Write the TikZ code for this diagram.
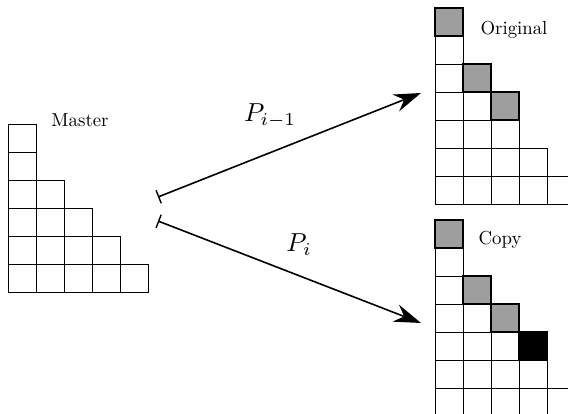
\documentclass[tikz,border=0pt]{standalone}
\usetikzlibrary{arrows.meta}
\newcommand\youngdiag[3]{%
  \foreach \len [count=\r] in {#3} {
    \foreach \c in {1,...,\len} {
      \draw[cellbox] ({#1+(\c-1)*28},{#2+(\r-1)*28}) rectangle ++(28,28);
    }
  }}
\begin{document}
\begin{tikzpicture}[x=1pt,y=-1pt,
  cellbox/.style={draw=black,line width=0.9pt},
  graycell/.style={draw=black,line width=1.1pt,fill=black!38},
  blackcell/.style={draw=black,line width=1.1pt,fill=black},
  lbl/.style={scale=1.88,inner sep=0pt,anchor=base},
  mlbl/.style={scale=2.6,inner sep=0pt,anchor=base},
  arr/.style={line width=1.6pt,{Bar[width=14pt,line width=1.4pt]}-{Stealth[length=27pt,width=18pt,inset=9pt]}}]
\useasboundingbox (0,0) rectangle (568,414);
\clip (0,0) rectangle (568,414);
% Master
\youngdiag{8}{124}{1,1,2,3,4,5}
\node[lbl] (master) at (80,127) {Master};
% Original
\youngdiag{435}{8}{1,1,2,3,3,4,5}
\draw[graycell] (435,8) rectangle ++(28,28);
\draw[graycell] (463,64) rectangle ++(28,28);
\draw[graycell] (491,92) rectangle ++(28,28);
\node[lbl] (orig) at (514,35) {Original};
% Copy
\youngdiag{435}{220}{1,1,2,3,4,4,5}
\draw[graycell] (435,220) rectangle ++(28,28);
\draw[graycell] (463,276) rectangle ++(28,28);
\draw[graycell] (491,304) rectangle ++(28,28);
\draw[blackcell] (519,332) rectangle ++(28,28);
\node[lbl] (copy) at (500,245) {Copy};
% Arrows
\coordinate (t1) at (158,197);
\coordinate (h1) at (421,93);
\coordinate (t2) at (158,221);
\coordinate (h2) at (421,323);
\draw[arr] (t1) -- (h1);
\draw[arr] (t2) -- (h2);
\node[mlbl] (p1) at (270,122) {$P_{i-1}$};
\node[mlbl] (p2) at (299,252) {$P_i$};
\end{tikzpicture}
\end{document}
